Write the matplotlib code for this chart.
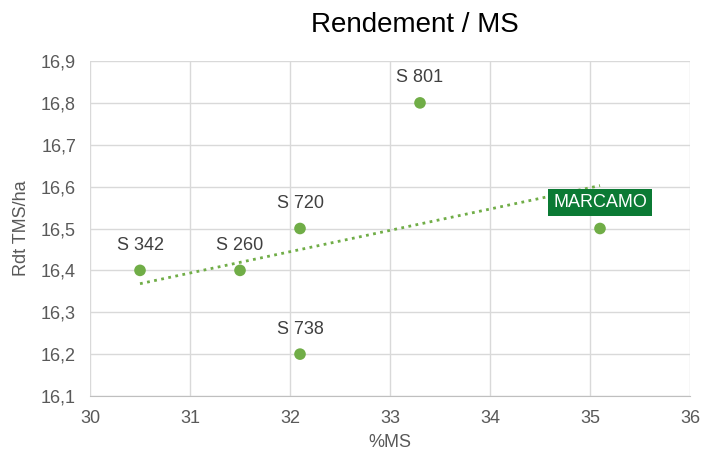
import numpy as np
import matplotlib.pyplot as plt

plt.rcParams['font.family'] = ['Liberation Sans', 'DejaVu Sans']

# Données
varietes = ['S 342', 'S 260', 'S 720', 'S 738', 'S 801', 'MARCAMO']
ms = [30.5, 31.5, 32.1, 32.1, 33.3, 35.1]
rdt = [16.4, 16.4, 16.5, 16.2, 16.8, 16.5]
x_ticks = [30, 31, 32, 33, 34, 35, 36]
y_ticks = [16.1, 16.2, 16.3, 16.4, 16.5, 16.6, 16.7, 16.8, 16.9]

vert = '#70AD47'
gris = '#595959'

fig = plt.figure(figsize=(7.01, 4.55), dpi=100)
ax = fig.add_axes([0.1284, 0.1297, 0.8559, 0.7362])

# Courbe de tendance linéaire
a, b = np.polyfit(ms, rdt, 1)
xt = np.array([min(ms), max(ms)])
ax.plot(xt, a * xt + b, color=vert, linestyle=(0, (1, 1.6)), linewidth=2, zorder=2)

ax.scatter(ms, rdt, s=70, color=vert, zorder=3, edgecolors='none')

for nom, x, y in zip(varietes, ms, rdt):
    if nom == 'MARCAMO':
        ax.annotate(nom, (x, y), xytext=(0, 19), textcoords='offset points',
                    ha='center', va='center', fontsize=13, color='white', zorder=4,
                    bbox=dict(boxstyle='square,pad=0.28', fc='#0B7A34', ec='none'))
    else:
        ax.annotate(nom, (x, y), xytext=(0, 18), textcoords='offset points',
                    ha='center', va='center', fontsize=13, color='#404040', zorder=4)

ax.set_xlim(30, 36)
ax.set_ylim(16.1, 16.9)
ax.set_xticks(x_ticks)
ax.set_yticks(y_ticks)
ax.set_xticklabels([str(v) for v in x_ticks])
ax.set_yticklabels([f'{v:.1f}'.replace('.', ',') for v in y_ticks])
ax.tick_params(length=0, labelsize=13, labelcolor=gris, pad=10)
ax.grid(True, color='#D9D9D9', linewidth=1)
ax.set_axisbelow(True)
for s in ['top', 'right', 'left']:
    ax.spines[s].set_visible(False)
ax.spines['bottom'].set_color('#BFBFBF')

ax.set_xlabel('%MS', fontsize=13, color=gris, labelpad=5)
ax.set_ylabel('Rdt TMS/ha', fontsize=13, color=gris, labelpad=8)
fig.text(0.592, 0.945, 'Rendement / MS', ha='center', va='center', fontsize=20, color='black')

plt.savefig('out.png', dpi=100)
